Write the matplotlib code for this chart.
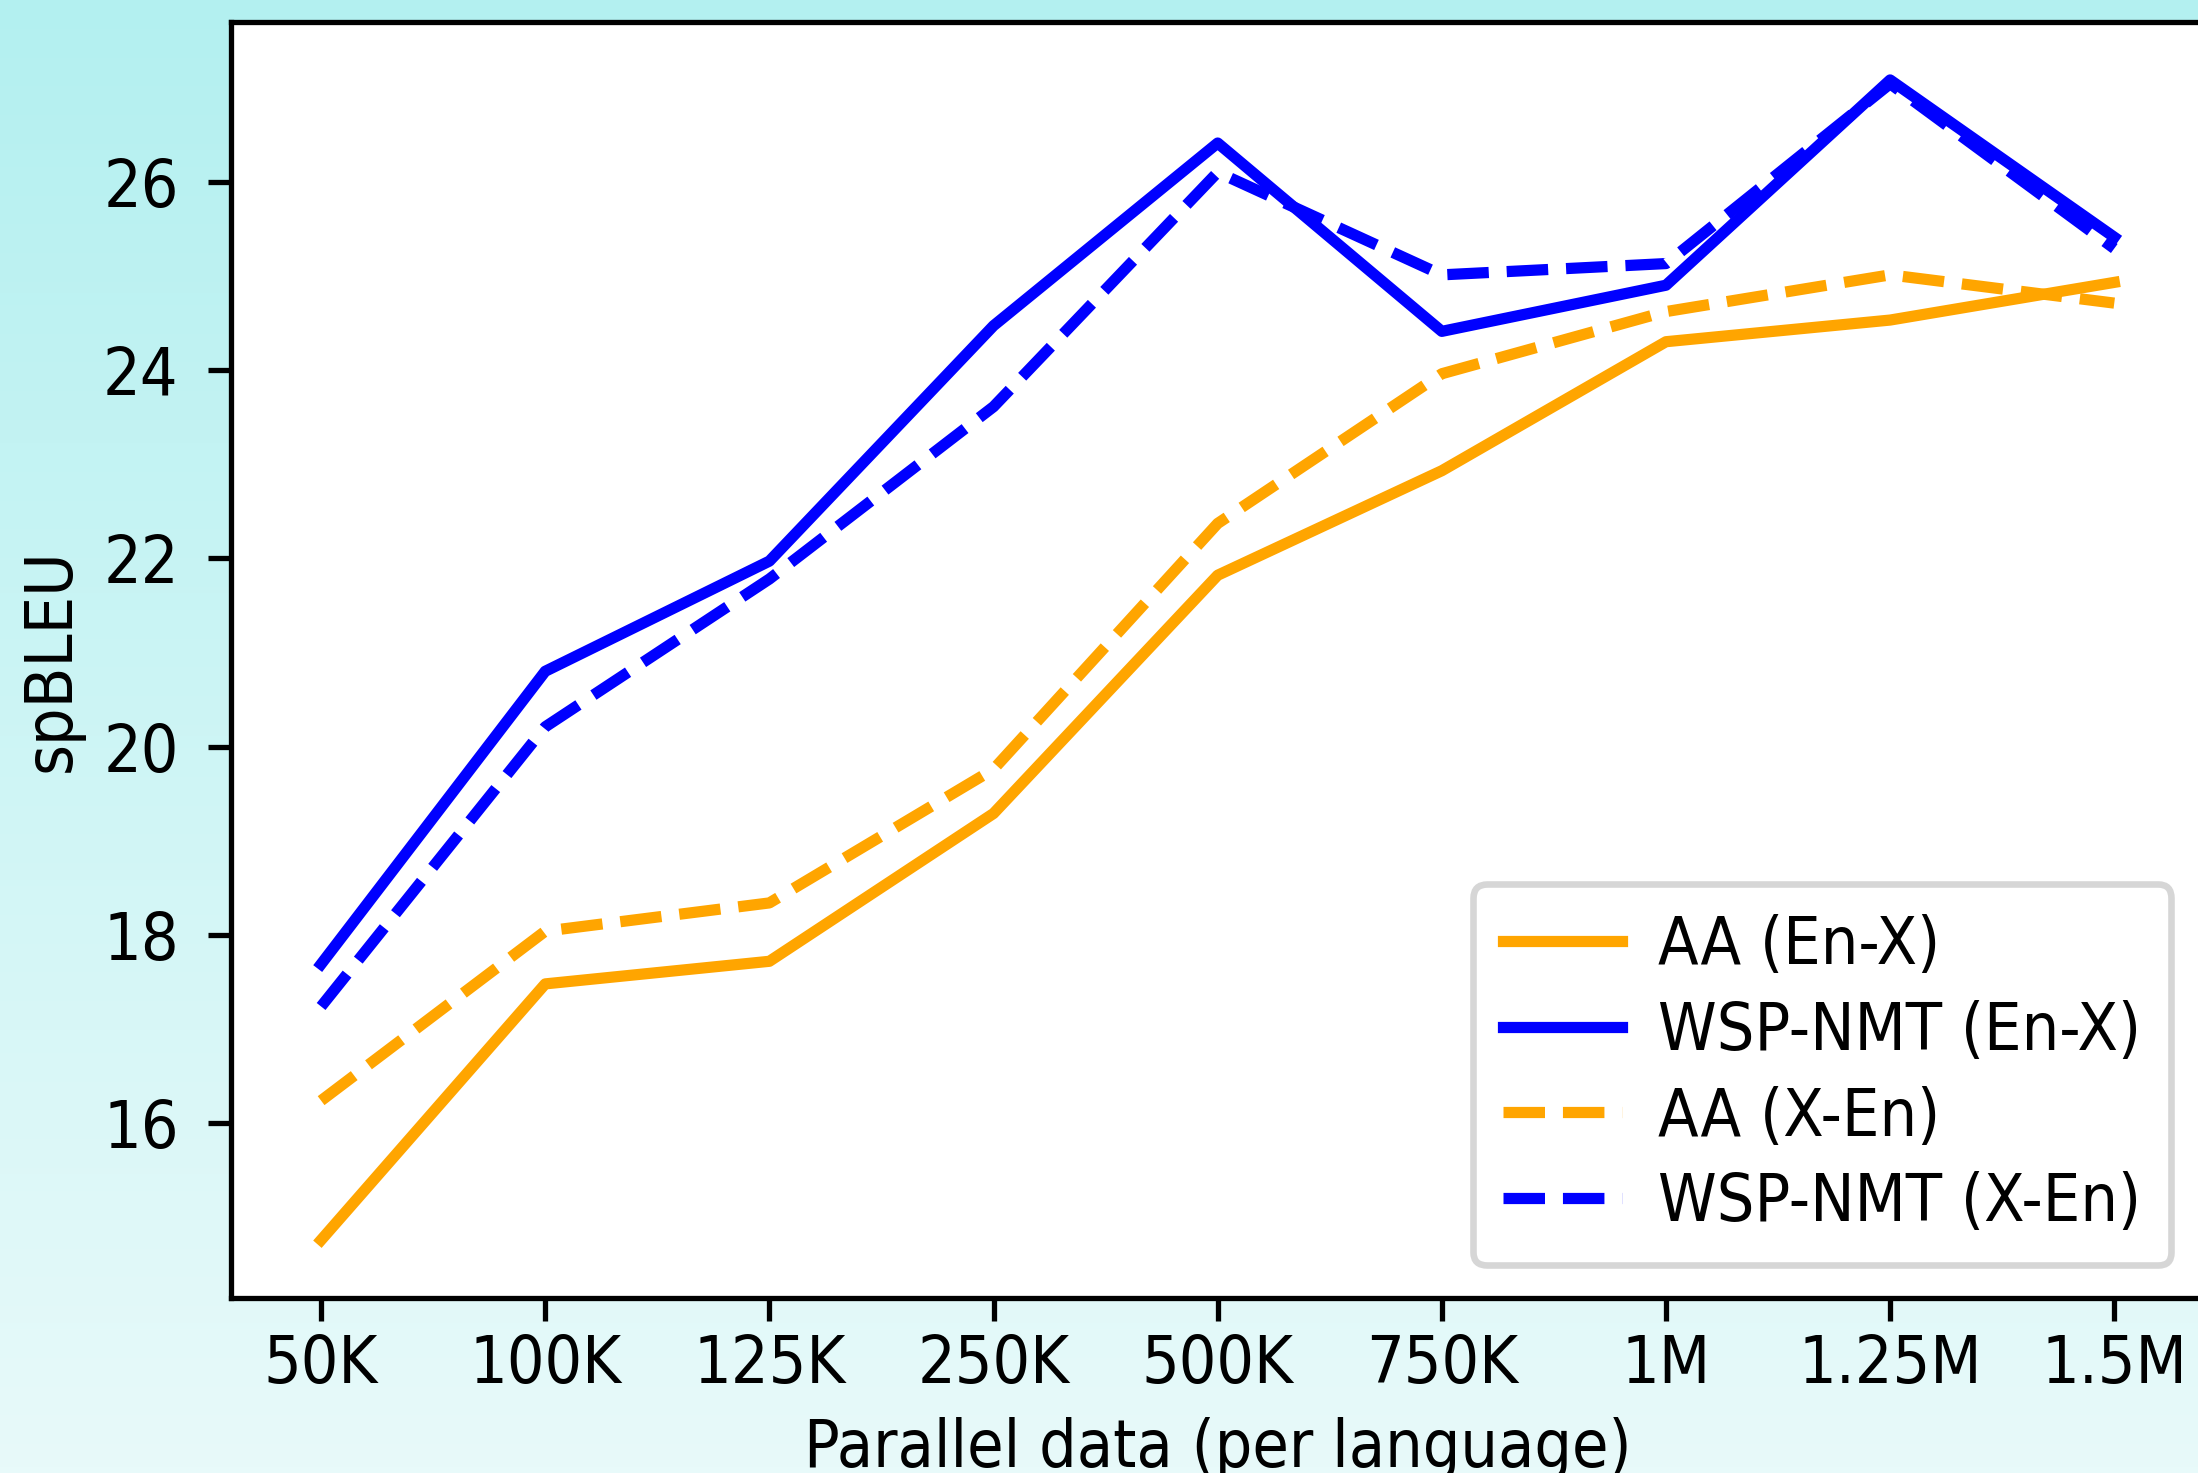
import numpy as np
import matplotlib

matplotlib.use("Agg")
import matplotlib.pyplot as plt
from matplotlib.colors import LinearSegmentedColormap

sizes = ["50K", "100K", "125K", "250K", "500K", "750K", "1M", "1.25M", "1.5M"]

aa_en_x = [14.76, 17.48, 17.72, 19.29, 21.82, 22.93, 24.30, 24.53, 24.93]
wsp_en_x = [17.69, 20.80, 21.97, 24.47, 26.41, 24.41, 24.90, 27.08, 25.41]
aa_x_en = [16.24, 18.04, 18.34, 19.76, 22.37, 23.96, 24.62, 25.01, 24.71]
wsp_x_en = [17.24, 20.21, 21.78, 23.61, 26.10, 25.01, 25.13, 27.04, 25.29]

plt.rcParams["font.family"] = ["DejaVu Sans"]
plt.rcParams["font.stretch"] = "condensed"
plt.rcParams["lines.linewidth"] = 1.7

DPI = 475
fig = plt.figure(figsize=(2198 / DPI, 1473 / DPI), dpi=DPI)

# soft cyan backdrop behind the plot
bg = fig.add_axes([0, 0, 1, 1], zorder=-1)
grad = np.linspace(0, 1, 256).reshape(-1, 1)
cmap = LinearSegmentedColormap.from_list("cy", ["#b3f0f0", "#e8fafa"])
bg.imshow(grad, aspect="auto", cmap=cmap, extent=[0, 1, 0, 1], origin="upper")
bg.set_axis_off()

ax = fig.add_axes([0.1053, 0.1188, 0.8974, 0.8663])
ax.set_facecolor("white")

xs = np.arange(len(sizes))
ax.plot(xs, aa_en_x, color="orange", linestyle="-", label="AA (En-X)")
ax.plot(xs, wsp_en_x, color="blue", linestyle="-", label="WSP-NMT (En-X)")
ax.plot(xs, aa_x_en, color="orange", linestyle="--", label="AA (X-En)")
ax.plot(xs, wsp_x_en, color="blue", linestyle="--", label="WSP-NMT (X-En)")

ax.set_xticks(xs)
ax.set_xticklabels(sizes)
ax.set_yticks([16, 18, 20, 22, 24, 26])
ax.tick_params(axis="x", pad=1.8)
ax.tick_params(axis="y", pad=4.5)
ax.set_xlabel("Parallel data (per language)", labelpad=3)
ax.set_ylabel("spBLEU", labelpad=3)
ax.legend(loc="lower right", labelspacing=0.33, handlelength=1.8,
          handletextpad=0.55, borderpad=0.45)

fig.savefig("out.png", dpi=DPI)
